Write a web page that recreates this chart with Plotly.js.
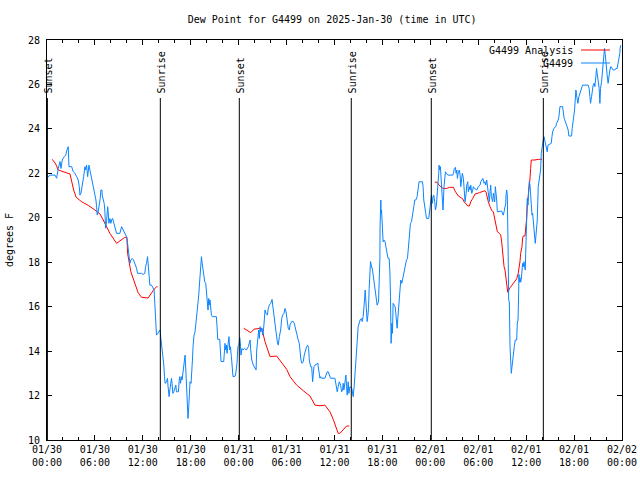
<!DOCTYPE html>
<html>
<head>
<meta charset="utf-8">
<script src="https://cdn.plot.ly/plotly-3.0.1.min.js"></script>
<style>html,body{margin:0;padding:0;background:#fff}#chart{width:640px;height:480px}</style>
</head>
<body>
<div id="chart"></div>
<script>
// Hours since 2025-01-30 00:00 UTC
const startUTC = Date.UTC(2025, 0, 30, 0, 0, 0);

const blueHours = [0.09,0.38,1.0,1.21,1.41,1.63,1.75,1.91,2.16,2.34,2.5,2.66,2.75,3.09,3.29,3.5,3.71,3.91,4.04,4.13,4.25,4.41,4.59,4.75,4.84,4.96,5.09,5.25,5.38,5.5,5.66,5.84,6.0,6.13,6.21,6.29,6.41,6.54,6.66,6.75,6.88,6.91,7.04,7.16,7.25,7.34,7.46,7.59,7.66,7.75,7.88,8.0,8.09,8.21,8.38,8.5,8.63,8.71,9.13,9.25,9.34,9.54,9.75,9.96,10.04,10.16,10.25,10.38,10.5,10.66,10.84,11.0,11.21,11.34,11.84,12.04,12.25,12.34,12.46,12.59,12.66,12.75,12.88,13.09,13.25,13.41,13.5,13.56,13.63,13.71,13.88,14.04,14.16,
14.25,14.38,14.54,14.63,14.71,14.79,14.96,15.09,15.16,15.29,15.38,15.5,15.59,15.66,15.75,15.88,16.0,16.13,16.21,16.46,16.54,16.63,16.71,16.84,16.91,17.0,17.09,17.16,17.29,17.38,17.46,17.59,17.66,17.75,17.84,17.91,18.04,18.09,18.21,18.29,18.41,18.54,18.71,18.88,19.0,19.13,19.21,19.34,19.41,19.5,19.54,19.63,19.75,19.88,19.96,20.09,20.16,20.25,20.34,20.41,20.5,20.59,20.71,21.21,21.29,21.38,21.63,21.71,21.79,22.13,22.21,22.29,22.38,22.46,22.54,22.63,22.71,22.79,22.88,22.96,23.09,23.21,23.29,23.54,23.63,23.79,23.91,24.04,24.13,24.21,24.29,24.41,24.54,24.75,24.96,
25.21,25.34,25.43,25.51,25.64,25.84,26.05,26.18,26.26,26.39,26.51,26.59,26.68,26.76,26.89,27.01,27.09,27.21,27.3,27.43,27.59,27.71,27.84,28.01,28.18,28.26,28.39,28.55,28.68,28.84,28.96,29.09,29.26,29.39,29.51,29.68,29.8,29.93,30.01,30.21,30.34,30.43,30.64,30.84,30.96,31.05,31.18,31.26,31.46,31.59,31.68,31.8,31.93,32.09,32.21,32.34,32.51,32.64,32.76,32.84,33.01,33.14,33.18,33.26,33.34,33.43,33.55,33.93,33.96,34.09,34.18,34.26,34.39,34.8,34.93,35.09,35.21,35.34,35.51,36.05,36.18,36.34,36.46,36.59,36.76,36.89,37.01,37.09,37.18,37.3,37.43,37.51,37.59,37.71,37.8,37.93,38.18,38.26,38.34,38.46,38.55,38.68,38.76,38.84,38.96,39.09,39.21,39.39,39.46,39.59,39.68,39.76,39.84,39.93,40.01,40.09,40.18,40.26,40.34,40.43,40.51,40.59,40.68,40.76,40.84,40.93,41.01,41.09,41.18,41.26,41.34,41.51,41.59,41.68,41.71,41.8,41.84,41.89,41.96,42.09,42.21,42.34,42.43,42.59,42.71,42.84,42.93,43.01,43.05,43.09,43.18,43.26,43.34,43.59,43.68,43.76,43.84,43.93,44.01,44.09,44.18,44.3,44.43,44.59,44.68,44.8,45.01,45.14,45.21,45.34,45.43,45.51,45.64,45.76,45.93,46.05,46.18,46.34,46.46,46.59,47.01,47.09,47.18,47.3,47.43,47.51,47.8,47.93,48.01,48.14,48.21,48.26,48.34,48.43,48.55,48.64,48.76,48.84,48.96,49.05,49.09,49.18,49.26,49.34,49.43,49.51,49.59,49.71,49.8,49.89,50.01,
50.19,50.81,50.89,51.01,51.14,51.23,51.31,51.39,51.51,51.64,51.73,51.81,51.94,52.01,52.14,52.23,52.35,52.48,52.56,52.69,52.76,52.89,52.98,53.06,53.19,53.31,53.39,53.51,53.81,54.01,54.23,54.31,54.44,54.56,54.64,54.73,54.85,54.94,55.06,55.14,55.26,55.39,55.48,55.56,55.64,55.81,55.89,55.98,56.06,56.14,56.23,56.31,56.39,56.94,57.06,57.14,57.23,57.35,57.44,57.48,57.56,57.64,57.73,57.76,57.81,57.89,57.98,58.06,58.14,58.23,58.31,58.39,58.51,58.64,58.81,58.89,58.98,59.06,59.1,59.14,59.23,59.31,59.39,59.48,59.56,59.64,59.73,59.81,59.89,59.94,59.98,60.06,60.14,60.23,60.31,60.39,60.48,60.56,60.64,60.73,60.81,60.89,60.98,61.06,61.14,61.23,61.31,61.39,61.51,61.64,61.81,61.89,61.98,62.14,62.23,62.31,62.39,62.56,62.64,62.73,63.14,63.23,63.31,63.48,63.73,63.81,64.01,64.1,64.23,64.56,64.64,64.76,65.06,65.26,65.35,65.69,65.76,65.85,65.98,66.06,66.14,66.23,66.31,66.39,66.48,66.6,66.73,66.85,67.06,67.76,67.89,67.98,68.06,68.19,68.26,68.39,68.51,68.6,68.73,68.81,68.89,69.01,69.14,69.23,69.31,69.44,69.56,69.73,69.81,69.89,69.98,70.14,70.26,70.39,70.48,70.6,70.73,70.89,71.1,71.23,71.39,71.51,71.64,71.73,71.76,71.85];

const blueDewF = [21.82,21.92,21.92,21.78,22.22,22.53,22.22,22.6,22.75,22.82,23.05,23.2,22.3,22.3,22.07,22.0,21.85,21.7,21.4,21.02,21.1,21.4,21.85,22.3,22.15,22.37,21.85,22.37,22.15,21.85,21.55,21.4,21.1,20.8,20.5,20.12,20.27,20.5,20.87,21.25,21.25,21.02,20.8,20.65,20.27,19.53,19.82,20.5,20.27,19.75,19.97,19.75,19.9,19.97,19.75,19.53,19.37,19.3,19.3,19.53,19.6,19.45,19.3,19.15,19.0,18.55,18.25,17.95,18.1,18.17,18.1,17.95,17.73,17.5,17.5,17.45,17.5,17.8,17.95,18.25,17.95,17.65,16.97,16.97,16.85,16.75,16.15,15.55,15.1,14.72,14.8,14.9,14.95,
14.6,14.2,13.7,13.37,12.85,12.55,12.6,12.78,12.4,11.95,12.25,12.55,12.78,12.55,12.1,12.17,12.4,12.47,12.17,12.17,12.62,12.85,12.55,12.85,12.7,13.0,13.37,13.45,13.82,13.15,12.25,11.65,10.97,11.5,12.32,12.62,12.55,13.15,13.6,14.2,14.72,14.87,15.4,16.0,16.52,17.2,17.8,18.25,18.02,17.8,17.57,17.5,17.12,17.05,16.6,15.92,15.85,16.37,16.07,16.3,15.92,15.62,15.55,15.55,15.1,14.53,14.53,14.05,13.53,13.53,14.2,14.35,14.05,14.27,13.9,14.12,14.5,14.65,14.05,14.2,13.75,13.37,12.85,12.87,12.97,13.45,14.2,14.27,14.62,14.4,13.82,14.12,14.05,14.12,14.05,
14.2,14.42,14.5,14.05,13.6,13.37,13.22,13.15,14.05,14.5,14.95,14.57,15.1,14.87,15.03,14.72,14.87,15.4,15.85,15.7,15.62,15.92,16.07,16.15,16.33,16.07,15.62,15.25,14.87,14.42,14.27,14.65,14.95,15.47,15.62,15.7,15.92,15.77,15.47,15.03,14.95,15.18,15.33,15.33,15.25,15.1,14.87,14.72,14.5,14.35,13.97,13.6,13.45,13.52,13.82,14.05,14.2,14.27,14.12,13.6,13.3,13.3,12.85,12.62,12.97,13.3,13.37,13.45,13.3,13.07,12.78,12.85,12.78,12.78,12.92,13.07,13.07,12.92,12.78,12.78,12.55,12.17,12.4,12.62,12.47,12.17,12.25,12.55,12.25,12.62,12.92,12.4,12.02,12.62,12.1,12.4,12.32,12.1,11.95,12.4,13.0,13.6,14.05,14.42,15.1,15.25,15.4,15.47,15.33,15.55,15.85,16.3,16.75,16.3,15.85,15.33,15.6,15.92,16.82,17.65,18.03,17.88,17.8,17.65,17.43,17.2,17.05,16.82,16.6,16.3,16.07,16.22,17.05,18.1,19.67,20.8,20.2,20.35,19.67,18.92,19.0,18.92,18.7,18.4,18.17,18.17,17.65,16.45,15.7,14.35,15.25,14.8,16.15,16.0,15.7,15.25,15.03,15.48,15.85,16.37,16.7,17.2,17.05,17.35,17.65,17.88,18.1,18.17,18.55,19.0,19.45,19.75,19.82,20.2,20.5,20.8,20.8,20.95,21.32,21.62,21.62,21.4,20.8,20.57,20.2,19.97,19.97,20.35,20.8,21.02,20.8,20.65,20.95,21.02,20.72,20.35,20.57,20.95,21.17,22.0,22.37,22.15,22.3,21.7,21.4,20.8,20.35,21.4,21.77,22.07,22.0,
21.92,21.92,22.0,22.22,22.27,22.0,22.15,21.77,22.07,22.15,21.92,21.4,21.7,22.0,21.77,21.25,20.72,21.1,21.47,21.62,21.17,21.4,21.25,21.47,21.1,21.25,21.4,21.32,21.25,21.4,21.47,21.62,21.7,21.77,21.7,21.55,21.62,21.47,21.7,21.4,21.25,20.72,21.17,21.47,20.95,20.72,21.1,20.95,20.72,21.4,21.17,20.8,20.27,20.3,20.17,20.12,20.27,20.42,20.65,21.02,21.25,21.02,19.6,18.0,16.3,16.22,14.2,13.6,13.0,13.3,13.67,13.9,14.2,14.5,14.5,15.25,15.4,16.67,17.45,17.1,17.3,17.1,17.23,17.52,17.95,17.8,18.02,17.8,17.65,18.4,19.45,19.9,20.87,20.57,21.25,21.62,21.47,20.95,20.65,20.12,20.2,19.9,19.3,19.0,18.85,19.22,19.6,19.9,21.4,21.85,22.15,22.9,23.2,23.5,23.65,23.5,23.27,23.12,22.97,23.27,23.35,23.65,23.87,24.02,24.12,24.25,24.4,24.55,25.0,25.0,24.78,24.47,24.17,23.95,23.68,23.68,24.02,24.43,24.62,24.85,25.3,25.75,25.52,25.37,25.15,25.45,25.6,25.75,25.97,25.97,25.82,25.45,25.15,25.45,25.75,25.97,26.05,25.9,26.35,26.72,26.5,26.2,25.82,25.15,25.82,26.12,26.65,27.4,27.62,27.4,26.95,26.42,26.05,26.5,26.65,26.8,26.72,26.65,26.65,26.72,26.72,26.95,27.17,27.4,27.62,27.77];

// Analysis series (gaps = null)
const redHours = [0.66,1.09,1.41,2.25,2.88,3.34,3.66,4.34,5.16,6.0,6.63,7.04,7.46,7.88,8.71,9.34,9.75,10.0,10.09,10.5,11.0,11.41,11.84,12.66,13.29,13.71,13.84,null,
24.63,25.51,25.93,26.89,27.3,27.93,28.76,29.39,30.01,30.43,31.26,32.09,32.93,33.55,34.18,34.8,35.43,35.84,36.26,36.46,36.68,37.09,37.51,37.84,null,
48.55,48.84,49.09,49.59,50.01,50.39,50.89,51.1,51.51,52.06,52.23,52.69,52.89,53.06,53.31,53.6,54.14,54.64,54.85,54.98,55.1,55.26,55.48,55.69,55.89,55.98,56.1,56.23,56.39,56.64,56.81,56.94,57.01,57.14,57.23,57.35,57.44,57.56,57.69,57.98,58.39,58.6,58.81,59.01,59.14,59.23,59.31,59.48,59.56,59.64,59.85,59.98,60.06,60.14,60.23,60.31,60.39,60.48,60.56,60.64,61.1,61.51,61.98];
const redDewF = [22.63,22.42,22.15,22.05,21.97,21.25,20.92,20.72,20.56,20.35,20.17,19.9,19.57,19.3,18.85,19.0,19.12,19.12,18.4,17.57,17.05,16.63,16.42,16.39,16.72,16.9,16.9,null,
15.03,14.83,14.99,15.03,14.42,13.75,13.78,13.45,13.18,12.85,12.47,12.22,11.98,11.57,11.54,11.57,11.27,10.93,10.45,10.3,10.3,10.45,10.63,10.63,null,
21.6,21.6,21.47,21.32,21.32,21.37,21.37,21.2,20.98,20.85,20.72,20.53,20.53,20.72,20.87,21.07,21.13,21.2,21.22,21.15,20.95,20.72,20.5,20.32,20.27,20.1,19.9,19.6,19.37,19.3,19.23,18.9,18.6,18.25,17.8,17.65,17.35,16.9,16.65,16.85,17.05,17.2,17.25,17.5,17.75,18.05,18.4,18.7,19.1,19.18,19.18,19.6,19.97,20.55,20.87,20.95,21.4,21.77,22.22,22.6,22.6,22.63,22.63];

const eventHours = [0.05, 14.19, 24.08, 38.1, 48.12, 62.15];
const eventLabels = ['Sunset','Sunrise','Sunset','Sunrise','Sunset','Sunrise'];

const tickHours = [0,6,12,18,24,30,36,42,48,54,60,66,72];
const tickDays  = ['01/30','01/30','01/30','01/30','01/31','01/31','01/31','01/31','02/01','02/01','02/01','02/01','02/02'];
const tickTimes = ['00:00','06:00','12:00','18:00','00:00','06:00','12:00','18:00','00:00','06:00','12:00','18:00','00:00'];

const seriesNames  = ['G4499 Analysis', 'G4499'];
const seriesColors = ['#ff0000', '#0a84ff'];

function toDate(h) {
  if (h === null) return null;
  return new Date(startUTC + h * 3600000).toISOString().replace('T', ' ').slice(0, 19);
}

const font = {family: '"DejaVu Sans Mono", "Liberation Mono", monospace', size: 10, color: '#000'};

const traces = [
  {x: redHours.map(toDate), y: redDewF, type: 'scatter', mode: 'lines', name: seriesNames[0],
   line: {color: seriesColors[0], width: 1}, connectgaps: false},
  {x: blueHours.map(toDate), y: blueDewF, type: 'scatter', mode: 'lines', name: seriesNames[1],
   line: {color: seriesColors[1], width: 1}}
];

const shapes = [];
const annotations = [];
eventHours.forEach((h, i) => {
  shapes.push({type: 'line', xref: 'x', yref: 'y', x0: toDate(h), x1: toDate(h), y0: 10, y1: 25.39,
               line: {color: '#000', width: 1}});
  annotations.push({xref: 'x', yref: 'y', x: toDate(h), y: 25.52, text: eventLabels[i], textangle: -90,
                    showarrow: false, xanchor: 'center', yanchor: 'bottom', xshift: 1, font: font});
});

// Legend (text left, sample line right, as in the reference)
const legY = [0.975, 0.9425];
seriesNames.forEach((n, i) => {
  annotations.push({xref: 'paper', yref: 'paper', x: 0.9183, y: legY[i], text: n, showarrow: false,
                    xanchor: 'right', yanchor: 'middle', font: font});
  shapes.push({type: 'line', xref: 'paper', yref: 'paper', x0: 0.9287, x1: 0.9791, y0: legY[i], y1: legY[i],
               line: {color: seriesColors[i], width: 1}});
});

const layout = {
  width: 640, height: 480,
  margin: {l: 47, r: 18, t: 40, b: 40, pad: 0},
  paper_bgcolor: '#fff', plot_bgcolor: '#fff',
  font: font,
  showlegend: false,
  title: {text: 'Dew Point for G4499 on 2025-Jan-30 (time in UTC)', font: font,
          xref: 'container', yref: 'container', x: 0.519, y: 0.96, xanchor: 'center', yanchor: 'middle'},
  xaxis: {
    type: 'date', range: [toDate(0), toDate(72)],
    tickmode: 'array', tickvals: tickHours.map(toDate),
    ticktext: tickDays.map((d, i) => d + '<br>' + tickTimes[i]),
    ticks: 'inside', ticklen: 5, tickcolor: '#000', tickwidth: 1,
    showline: true, linecolor: '#000', linewidth: 1, mirror: 'allticks',
    showgrid: false, zeroline: false, tickfont: font,
    minor: {tickmode: 'linear', tick0: toDate(0), dtick: 7200000, ticks: 'inside', ticklen: 3,
            tickcolor: '#000', tickwidth: 1, showgrid: false}
  },
  yaxis: {
    range: [10, 28], tickmode: 'linear', tick0: 10, dtick: 2,
    ticks: 'inside', ticklen: 5, tickcolor: '#000', tickwidth: 1,
    showline: true, linecolor: '#000', linewidth: 1, mirror: 'allticks',
    showgrid: false, zeroline: false, tickfont: font, ticklabelstandoff: 4,
    title: {text: 'degrees F', font: font, standoff: 12}
  },
  shapes: shapes,
  annotations: annotations
};

Plotly.newPlot('chart', traces, layout, {staticPlot: true, displayModeBar: false});
</script>
</body>
</html>
